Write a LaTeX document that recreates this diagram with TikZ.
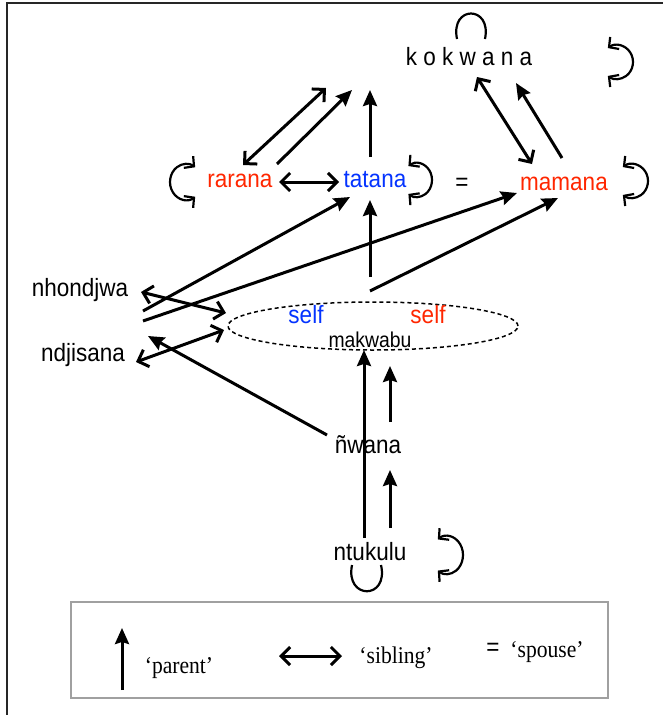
\documentclass[tikz,border=0pt]{standalone}
\usepackage{fontspec}
\setmainfont{Liberation Sans}[FakeStretch=0.9]
\newfontfamily\timesf{Liberation Serif}[FakeStretch=0.9]
\usetikzlibrary{arrows.meta,shapes.geometric}
\definecolor{kred}{RGB}{255,38,0}
\definecolor{kblue}{RGB}{4,51,255}
\definecolor{boxgray}{RGB}{160,160,160}
\begin{document}
\begin{tikzpicture}[x=1pt,y=-1pt,
 lbl/.style={inner sep=0pt, anchor=base, font=\fontsize{25}{30}\selectfont},
 par/.style={line width=3pt, -{Stealth[length=16pt,width=14pt,inset=2pt]}},
 sib/.style={line width=3pt, {Straight Barb[length=9pt,width=18pt]}-{Straight Barb[length=9pt,width=18pt]}},
 circ/.style={line width=2.2pt, {Straight Barb[length=7pt,width=15pt]}-{Straight Barb[length=7pt,width=15pt]}},
 loopline/.style={line width=2.2pt},
 leg/.style={inner sep=0pt, anchor=base, font=\timesf\fontsize{24}{28}\selectfont}]
\useasboundingbox (0,0) rectangle (666,715);
\draw[line width=2pt, black!85] (7,716) -- (7,3) -- (663,3);

% nodes
\node[lbl] (kok) at (469,65) {k o k w a n a};
\node[lbl, text=kred] (rar) at (240,187) {rarana};
\node[lbl, text=kblue] (tat) at (375,187) {tatana};
\node[lbl] (eq) at (462,190) {=};
\node[lbl, text=kred] (mam) at (564,190) {mamana};
\node[lbl] (nho) at (80,296) {nhondjwa};
\node[lbl] (ndj) at (83,361) {ndjisana};
\node[ellipse, draw, dash pattern=on 4pt off 3pt, line width=1.5pt, minimum width=290pt, minimum height=48pt, inner sep=0pt] (selfell) at (373,326) {};
\node[lbl, text=kblue] (selfb) at (306,323) {self};
\node[lbl, text=kred] (selfr) at (428,323) {self};
\node[lbl, font=\fontsize{21.5}{26}\selectfont] (mak) at (370,347) {makwabu};
\node[lbl] (nwa) at (368,453) {ñwana};
\node[lbl] (ntu) at (370,560) {ntukulu};

% connector end points
\coordinate (a1s) at (243,165); \coordinate (a1e) at (326,88);
\coordinate (a2s) at (277,164); \coordinate (a2e) at (352,90);
\coordinate (a3s) at (370,157); \coordinate (a3e) at (370,90);
\coordinate (a4s) at (477,77);  \coordinate (a4e) at (532,164);
\coordinate (a5s) at (562,158); \coordinate (a5e) at (516,83);
\coordinate (a6s) at (279,182); \coordinate (a6e) at (339,182);
\coordinate (a7s) at (143,311); \coordinate (a7e) at (350,197);
\coordinate (a8s) at (143,321); \coordinate (a8e) at (517,193);
\coordinate (a9s) at (370,277); \coordinate (a9e) at (370,200);
\coordinate (a10s) at (370,291); \coordinate (a10e) at (558,198);
\coordinate (a11s) at (141,292); \coordinate (a11e) at (226,313);
\coordinate (a12s) at (136,362); \coordinate (a12e) at (224,330);
\coordinate (a13s) at (327,435); \coordinate (a13e) at (148,336);
\coordinate (a14s) at (364,538); \coordinate (a14e) at (364,350);
\coordinate (a15s) at (390,422); \coordinate (a15e) at (390,366);
\coordinate (a16s) at (390,528); \coordinate (a16e) at (390,470);

\draw[sib] (a1s) -- (a1e);
\draw[par] (a2s) -- (a2e);
\draw[par] (a3s) -- (a3e);
\draw[sib] (a4s) -- (a4e);
\draw[par] (a5s) -- (a5e);
\draw[sib] (a6s) -- (a6e);
\draw[par] (a7s) -- (a7e);
\draw[par] (a8s) -- (a8e);
\draw[par] (a9s) -- (a9e);
\draw[par] (a10s) -- (a10e);
\draw[sib] (a11s) -- (a11e);
\draw[sib] (a12s) -- (a12e);
\draw[par] (a13s) -- (a13e);
\draw[par] (a14s) -- (a14e);
\draw[par] (a15s) -- (a15e);
\draw[par] (a16s) -- (a16e);

% self-reciprocal circular arrows
\draw[circ] (617,62) ++(-125:16 and 17) arc[start angle=-125, end angle=125, x radius=16, y radius=17];
\draw[circ] (186,182) ++(55:16 and 18) arc[start angle=55, end angle=305, x radius=16, y radius=18];
\draw[circ] (417,180) ++(-125:15 and 17) arc[start angle=-125, end angle=125, x radius=15, y radius=17];
\draw[circ] (632,181) ++(-125:16 and 17) arc[start angle=-125, end angle=125, x radius=16, y radius=17];
\draw[circ] (447,555) ++(-125:16 and 19) arc[start angle=-125, end angle=125, x radius=16, y radius=19];

% loops
\draw[loopline] (457,39) .. controls (450,5) and (492,5) .. (485,39);
\draw[loopline] (352,565) .. controls (345,600) and (389,600) .. (381,565);

% legend
\node[draw=boxgray, line width=2pt, minimum width=537pt, minimum height=96pt, inner sep=0pt] (legend) at (339.5,650) {};
\coordinate (lp1) at (122,690); \coordinate (lp2) at (122,628);
\draw[par] (lp1) -- (lp2);
\node[leg] (lpar) at (179,673) {‘parent’};
\coordinate (ls1) at (279,656); \coordinate (ls2) at (342,656);
\draw[sib] (ls1) -- (ls2);
\node[leg] (lsib) at (396,663) {‘sibling’};
\node[lbl] (leq) at (493,655) {=};
\node[leg] (lsp) at (547,657) {‘spouse’};
\end{tikzpicture}
\end{document}
